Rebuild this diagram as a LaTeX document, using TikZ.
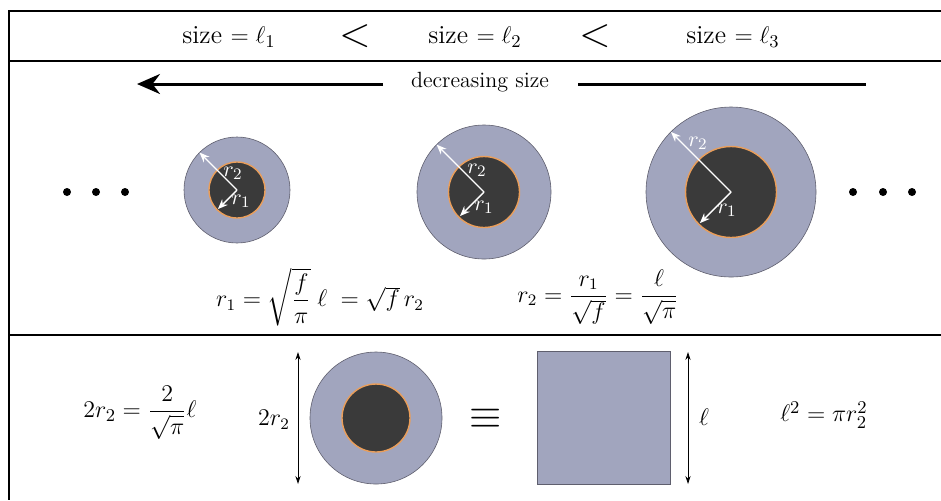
\documentclass[tikz,border=0pt]{standalone}
\usepackage{amsmath}
\usetikzlibrary{arrows.meta}
\definecolor{ringblue}{RGB}{161,165,190}
\definecolor{coredark}{RGB}{58,58,58}
\definecolor{coreedge}{RGB}{234,158,90}
\definecolor{ringedge}{RGB}{95,95,110}
\begin{document}
\begin{tikzpicture}[x=0.5pt,y=-0.5pt,
  frameline/.style={line width=1pt},
  outerring/.style={fill=ringblue, draw=ringedge, line width=0.3pt},
  innercore/.style={fill=coredark, draw=coreedge, line width=0.7pt},
  radarrow/.style={white, line width=0.7pt, -{Stealth[length=5pt,width=4pt]}},
  radlabel/.style={text=white, font=\fontsize{11}{13}\selectfont, inner sep=0pt},
  toptext/.style={font=\fontsize{13}{15}\selectfont},
  ltsign/.style={font=\fontsize{21}{25}\selectfont},
  eqtext/.style={font=\fontsize{11.6}{14}\selectfont},
  eqbottom/.style={font=\fontsize{12.7}{15}\selectfont},
  dimarrow/.style={line width=0.4pt, {Stealth[length=4pt,width=2.6pt]}-{Stealth[length=4pt,width=2.6pt]}},
  bigarrow/.style={line width=1.5pt},
  dot/.style={fill=black}
]
\useasboundingbox (0,0) rectangle (941,500);
% frame
\draw[frameline] (941,11) -- (9,11) -- (9,500);
\draw[frameline] (9,61) -- (941,61);
\draw[frameline] (9,335) -- (941,335);

% top row
\node[toptext] (s1) at (229,37) {size $=\ell_1$};
\node[ltsign] (lt1) at (355,36) {$<$};
\node[toptext] (s2) at (475,37) {size $=\ell_2$};
\node[ltsign] (lt2) at (595,36) {$<$};
\node[toptext] (s3) at (733,37) {size $=\ell_3$};

% decreasing size arrow
\node[font=\fontsize{11}{13}\selectfont] (dec) at (480,82) {decreasing size};
\coordinate (aLs) at (383,84);
\coordinate (aLe) at (137,84);
\coordinate (aRs) at (578,84);
\coordinate (aRe) at (866,84);
\draw[bigarrow, -{Stealth[length=11.5pt,width=10pt]}] (aLs) -- (aLe);
\draw[bigarrow] (aRs) -- (aRe);

% dots
\foreach \x in {67,96,125,853,883,912} \fill[dot] (\x,192) circle[radius=4];

% rings
\coordinate (c1) at (237,190);
\coordinate (c2) at (484,192);
\coordinate (c3) at (731,192);
\draw[outerring] (c1) circle[radius=53];
\draw[innercore] (c1) circle[radius=28];
\draw[outerring] (c2) circle[radius=67];
\draw[innercore] (c2) circle[radius=35.5];
\draw[outerring] (c3) circle[radius=85];
\draw[innercore] (c3) circle[radius=45.5];

\draw[radarrow] (c1) -- ++(225:53);
\draw[radarrow] (c1) -- ++(135:27);
\draw[radarrow] (c2) -- ++(225:67);
\draw[radarrow] (c2) -- ++(135:34);
\draw[radarrow] (c3) -- ++(225:85);
\draw[radarrow] (c3) -- ++(135:44);
\node[radlabel] (l21) at (233,173) {$r_2$};
\node[radlabel] (l11) at (241,201) {$r_1$};
\node[radlabel] (l22) at (477,170) {$r_2$};
\node[radlabel] (l12) at (484,207) {$r_1$};
\node[radlabel] (l23) at (698,143) {$r_2$};
\node[radlabel] (l13) at (727,210) {$r_1$};

% formulas
\node[eqtext] (f1) at (320,297) {$r_1=\sqrt{\dfrac{f}{\pi}}\;\ell\;=\sqrt{f}\,r_2$};
\node[eqtext] (f2) at (598,297) {$r_2=\dfrac{r_1}{\sqrt{f}}=\dfrac{\ell}{\sqrt{\pi}}$};

% bottom panel
\node[eqbottom] (f3) at (140,413) {$2r_2=\dfrac{2}{\sqrt{\pi}}\ell$};
\node[font=\fontsize{11.5}{14}\selectfont] (lab2r) at (274,420) {$2r_2$};
\coordinate (d1t) at (298,352);
\coordinate (d1b) at (298,484);
\draw[dimarrow] (d1t) -- (d1b);
\coordinate (c4) at (376,418);
\draw[outerring] (c4) circle[radius=66];
\draw[innercore] (c4) circle[radius=34];
\node[font=\fontsize{20}{24}\selectfont] (eqv) at (486,419) {$\equiv$};
\draw[outerring] (537,351) rectangle (670,484);
\coordinate (d2t) at (688,352);
\coordinate (d2b) at (688,484);
\draw[dimarrow] (d2t) -- (d2b);
\node[eqbottom] (labl) at (704,417) {$\ell$};
\node[font=\fontsize{13.2}{16}\selectfont] (f4) at (824,415) {$\ell^2=\pi r_2^2$};
\end{tikzpicture}
\end{document}
